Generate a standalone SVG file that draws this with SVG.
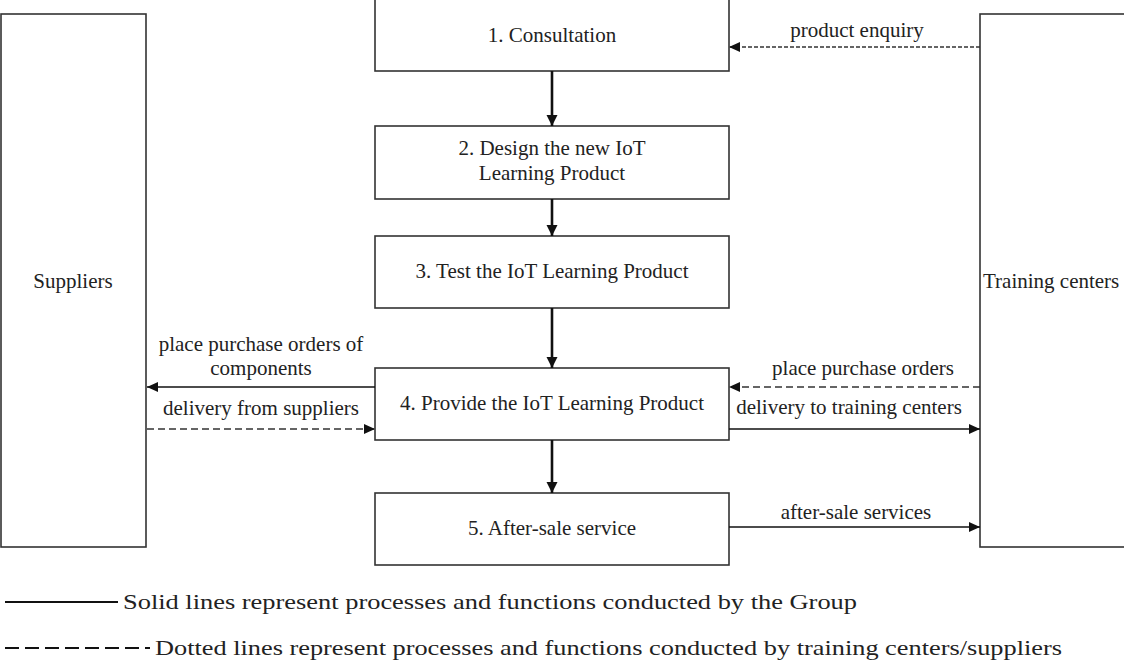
<svg xmlns="http://www.w3.org/2000/svg" width="1124" height="666" viewBox="0 0 1124 666">
<style>
.box{fill:#fff;stroke:#333;stroke-width:1.6}
.t{font-family:"Liberation Serif","Times New Roman",serif;font-size:21px;fill:#222;text-anchor:middle}
.tl{font-family:"Liberation Serif","Times New Roman",serif;font-size:21px;fill:#222}
.lg{font-family:"Liberation Serif","Times New Roman",serif;font-size:22px;fill:#222}
.flow{stroke:#111;stroke-width:2.6;fill:none}
.sol{stroke:#111;stroke-width:1.5;fill:none}
.dash{stroke:#333;stroke-width:1.5;fill:none;stroke-dasharray:7,4}
.dot{stroke:#333;stroke-width:1.5;fill:none;stroke-dasharray:4,2}
</style>
<defs>
<marker id="ah" markerUnits="userSpaceOnUse" markerWidth="12" markerHeight="12" refX="11" refY="6" orient="auto"><path d="M0,1 L11,6 L0,11 z" fill="#111"/></marker>
<marker id="ahb" markerUnits="userSpaceOnUse" markerWidth="12" markerHeight="12" refX="11" refY="6" orient="auto"><path d="M0,0.5 L11,6 L0,11.5 z" fill="#111"/></marker>
</defs>
<g id="suppliers"><rect class="box" x="1" y="14" width="145" height="533"/><text class="t" x="73" y="288">Suppliers</text></g>
<g id="training"><rect class="box" x="980" y="14" width="160" height="533"/><text class="tl" x="983" y="288">Training centers</text></g>
<g id="n1"><rect class="box" x="375" y="-2" width="354" height="73"/><text class="t" x="552" y="42">1. Consultation</text></g>
<g id="n2"><rect class="box" x="375" y="126" width="354" height="73"/><text class="t" x="552" y="155">2. Design the new IoT</text><text class="t" x="552" y="180">Learning Product</text></g>
<g id="n3"><rect class="box" x="375" y="236" width="354" height="72"/><text class="t" x="552" y="278">3. Test the IoT Learning Product</text></g>
<g id="n4"><rect class="box" x="375" y="368" width="354" height="72"/><text class="t" x="552" y="410">4. Provide the IoT Learning Product</text></g>
<g id="n5"><rect class="box" x="375" y="493" width="354" height="72"/><text class="t" x="552" y="535">5. After-sale service</text></g>
<g id="connectors">
<line class="flow" x1="552" y1="71" x2="552" y2="126" marker-end="url(#ahb)"/>
<line class="flow" x1="552" y1="199" x2="552" y2="236" marker-end="url(#ahb)"/>
<line class="flow" x1="552" y1="308" x2="552" y2="368" marker-end="url(#ahb)"/>
<line class="flow" x1="552" y1="440" x2="552" y2="493" marker-end="url(#ahb)"/>
<line class="dot" x1="980" y1="47" x2="729" y2="47" marker-end="url(#ah)"/>
<text class="t" x="857" y="37">product enquiry</text>
<line class="sol" x1="375" y1="387" x2="147" y2="387" marker-end="url(#ah)"/>
<text class="t" x="261" y="351">place purchase orders of</text>
<text class="t" x="261" y="375">components</text>
<line class="dash" x1="147" y1="429" x2="375" y2="429" marker-end="url(#ah)"/>
<text class="t" x="261" y="415">delivery from suppliers</text>
<line class="dash" x1="980" y1="387" x2="729" y2="387" marker-end="url(#ah)"/>
<text class="t" x="863" y="375">place purchase orders</text>
<line class="sol" x1="729" y1="429" x2="980" y2="429" marker-end="url(#ah)"/>
<text class="t" x="849" y="414">delivery to training centers</text>
<line class="sol" x1="729" y1="527" x2="980" y2="527" marker-end="url(#ah)"/>
<text class="t" x="856" y="519">after-sale services</text>
</g>
<g id="legend">
<line x1="5" y1="602" x2="118" y2="602" stroke="#111" stroke-width="2.2"/>
<text class="lg" x="123" y="609" textLength="734" lengthAdjust="spacingAndGlyphs">Solid lines represent processes and functions conducted by the Group</text>
<line x1="5" y1="648" x2="150" y2="648" stroke="#111" stroke-width="2" stroke-dasharray="14,6"/>
<text class="lg" x="155" y="655" textLength="907" lengthAdjust="spacingAndGlyphs">Dotted lines represent processes and functions conducted by training centers/suppliers</text>
</g>
</svg>
